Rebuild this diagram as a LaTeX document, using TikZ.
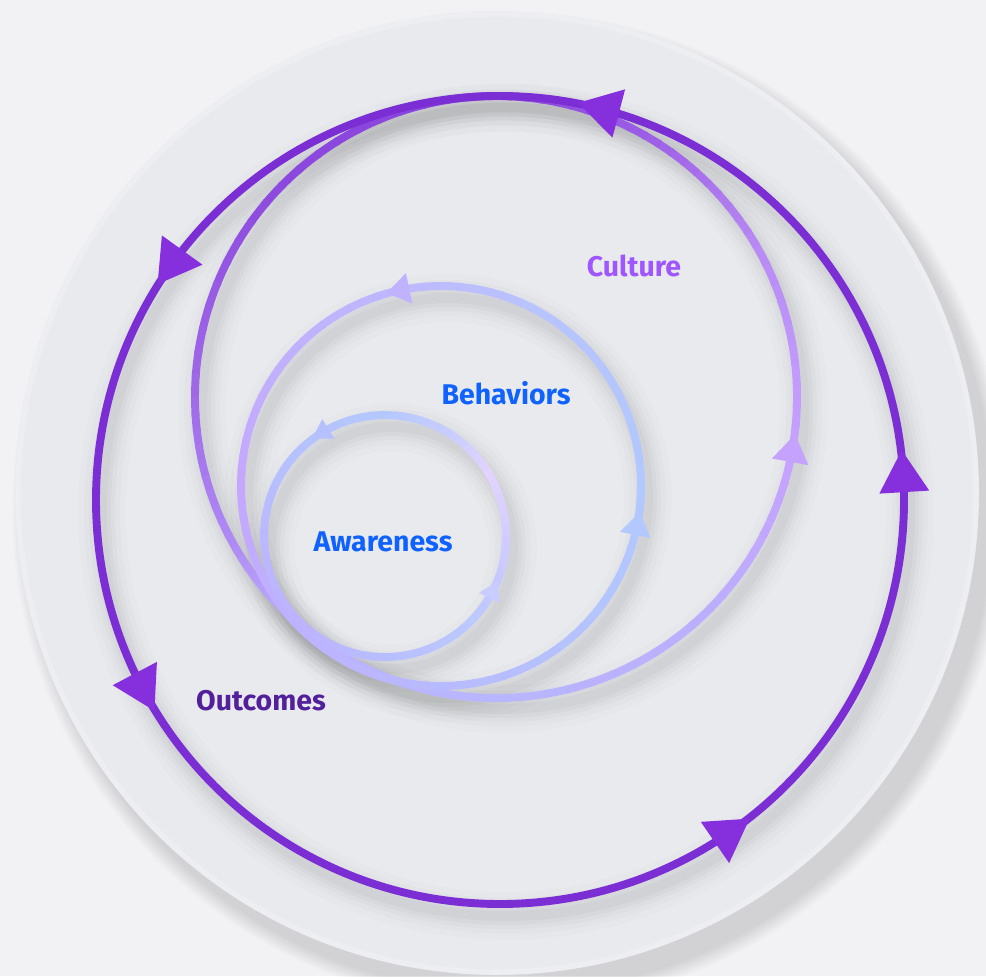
\documentclass[tikz,border=0pt]{standalone}
\usepackage{fontspec}
\setmainfont{Fira Sans}
\definecolor{bgout}{HTML}{F2F2F4}
\definecolor{plate}{HTML}{E9EAEE}
\definecolor{outerc}{HTML}{7B2ED4}
\definecolor{outerarr}{HTML}{8530DC}
\definecolor{txtblue}{HTML}{0F62FE}
\definecolor{txtculture}{HTML}{A056FF}
\definecolor{txtoutcome}{HTML}{52209A}
% awareness loop colours
\definecolor{aA}{HTML}{BDB2FF}\definecolor{aB}{HTML}{B8BEFF}\definecolor{aC}{HTML}{BCCAFF}
\definecolor{aD}{HTML}{C8C8FF}\definecolor{aE}{HTML}{E2D4FF}\definecolor{aF}{HTML}{C8CCFF}
\definecolor{aG}{HTML}{B4C8FF}\definecolor{aH}{HTML}{B6C0FF}\definecolor{aI}{HTML}{BCB8FF}
% behaviors loop colours
\definecolor{bA}{HTML}{BEB2FF}\definecolor{bB}{HTML}{B8BAFF}\definecolor{bC}{HTML}{B4C4FF}
\definecolor{bD}{HTML}{B2C8FF}\definecolor{bE}{HTML}{B8C4FF}\definecolor{bF}{HTML}{BCBCFF}
\definecolor{bG}{HTML}{C0B2FF}\definecolor{bH}{HTML}{C4A8FF}
% culture loop colours
\definecolor{cA}{HTML}{BCB2FF}\definecolor{cB}{HTML}{B8B6FF}\definecolor{cC}{HTML}{BCAEFF}
\definecolor{cD}{HTML}{C6A2FF}\definecolor{cE}{HTML}{B88AF4}\definecolor{cF}{HTML}{9C5EE6}
\definecolor{cG}{HTML}{8844DC}\definecolor{cH}{HTML}{8C48DE}\definecolor{cI}{HTML}{A06AE8}
\definecolor{cJ}{HTML}{B08CF6}

% arc of a circle (pixel units) whose colour runs from #6 to #7
\newcommand\gradarc[7]{%
  \foreach \k in {0,...,9}{%
    \pgfmathsetmacro\ta{#4+(#5-#4)*\k/10}%
    \pgfmathsetmacro\tb{#4+(#5-#4)*(\k+1)/10+((#5>#4)?0.7:-0.7)}%
    \pgfmathtruncatemacro\mix{round(100*(\k+0.5)/10)}%
    \draw[loopline, color=#7!\mix!#6] ({#1+#3*cos(\ta)},{#2+#3*sin(\ta)})
      arc[start angle=\ta, end angle=\tb, radius=#3];
  }}

% triangular arrowhead on a circle, pointing in the direction of travel
\newcommand\arrowat[7]{%
  \pgfmathsetmacro\ax{#1+#3*cos(#4)}%
  \pgfmathsetmacro\ay{#2+#3*sin(#4)}%
  \pgfmathsetmacro\tx{sin(#4)}%
  \pgfmathsetmacro\ty{-cos(#4)}%
  \pgfmathsetmacro\nx{cos(#4)}%
  \pgfmathsetmacro\ny{sin(#4)}%
  \fill[#7] ({\ax+0.6*#5*\tx},{\ay+0.6*#5*\ty})
    -- ({\ax-0.4*#5*\tx+0.5*#6*\nx},{\ay-0.4*#5*\ty+0.5*#6*\ny})
    -- ({\ax-0.4*#5*\tx-0.5*#6*\nx},{\ay-0.4*#5*\ty-0.5*#6*\ny}) -- cycle;}

% soft shadow following a ring
\newcommand\ringshadow[3]{%
  \foreach \w/\o in {48/0.012,36/0.016,26/0.02,18/0.024,10/0.028}{%
    \draw[black, opacity=\o, line width=\w*0.567pt] (#1,#2) circle[radius=#3];}}

\tikzset{
  loopline/.style={line width=4.5pt, line cap=butt},
  label/.style={font=\bfseries\fontsize{16.2}{19}\selectfont, inner sep=0pt}
}

\begin{document}
\begin{tikzpicture}[x=0.02cm,y=-0.02cm]
\useasboundingbox (0,0) rectangle (986,976);
\fill[bgout] (0,0) rectangle (986,976);

% plate with its drop shadow
\foreach \k in {0,...,15}{
  \fill[black, opacity=0.009] (510,510) circle[radius=482+16-\k];}
\fill[plate] (497,493) circle[radius=482];
\draw[white, opacity=0.22, line width=3pt] (497,493) circle[radius=479];

% shadows of the rings
\ringshadow{506}{512}{404}
\ringshadow{503}{408}{301}
\ringshadow{448}{498}{200}
\ringshadow{392}{548}{121}

% culture loop
\gradarc{496}{397}{301}{130}{90}{cA}{cB}
\gradarc{496}{397}{301}{90}{45}{cB}{cC}
\gradarc{496}{397}{301}{45}{10}{cC}{cD}
\gradarc{496}{397}{301}{10}{-30}{cD}{cE}
\gradarc{496}{397}{301}{-30}{-60}{cE}{cF}
\gradarc{496}{397}{301}{-60}{-90}{cF}{cG}
\gradarc{496}{397}{301}{-90}{-135}{cG}{cH}
\gradarc{496}{397}{301}{-135}{-180}{cH}{cI}
\gradarc{496}{397}{301}{-180}{-210}{cI}{cJ}
\gradarc{496}{397}{301}{-210}{-230}{cJ}{cA}

% outcomes loop
\draw[outerc, line width=4.5pt] (500,500) circle[radius=404];

% behaviors loop
\gradarc{441}{486}{200}{135}{90}{bA}{bB}
\gradarc{441}{486}{200}{90}{45}{bB}{bC}
\gradarc{441}{486}{200}{45}{0}{bC}{bD}
\gradarc{441}{486}{200}{0}{-60}{bD}{bE}
\gradarc{441}{486}{200}{-60}{-90}{bE}{bF}
\gradarc{441}{486}{200}{-90}{-135}{bF}{bG}
\gradarc{441}{486}{200}{-135}{-180}{bG}{bH}
\gradarc{441}{486}{200}{-180}{-225}{bH}{bA}

% awareness loop
\gradarc{385}{536}{121}{135}{90}{aA}{aB}
\gradarc{385}{536}{121}{90}{45}{aB}{aC}
\gradarc{385}{536}{121}{45}{20}{aC}{aD}
\gradarc{385}{536}{121}{20}{-30}{aD}{aE}
\gradarc{385}{536}{121}{-30}{-60}{aE}{aF}
\gradarc{385}{536}{121}{-60}{-90}{aF}{aG}
\gradarc{385}{536}{121}{-90}{-150}{aG}{aH}
\gradarc{385}{536}{121}{-150}{-180}{aH}{aI}
\gradarc{385}{536}{121}{-180}{-225}{aI}{aA}

% arrowheads
\arrowat{500}{500}{404}{284.7}{42}{50}{outerarr}
\arrowat{500}{500}{404}{215.8}{42}{50}{outerarr}
\arrowat{500}{500}{404}{152.2}{42}{50}{outerarr}
\arrowat{500}{500}{404}{55.5}{42}{50}{outerarr}
\arrowat{500}{500}{404}{356.5}{42}{50}{outerarr}
\arrowat{496}{397}{301}{10.3}{28}{37}{cD}
\arrowat{441}{486}{200}{258.2}{23}{31}{bG}
\arrowat{441}{486}{200}{11.5}{23}{31}{bD}
\arrowat{385}{536}{121}{238.5}{19}{23}{aH}
\arrowat{385}{536}{121}{27.2}{19}{23}{aF}

% labels
\node[label, text=txtculture] (culture) at (634,266) {Culture};
\node[label, text=txtblue] (behaviors) at (506,393) {Behaviors};
\node[label, text=txtblue] (awareness) at (383,542) {Awareness};
\node[label, text=txtoutcome] (outcomes) at (261,701) {Outcomes};
\end{tikzpicture}
\end{document}
